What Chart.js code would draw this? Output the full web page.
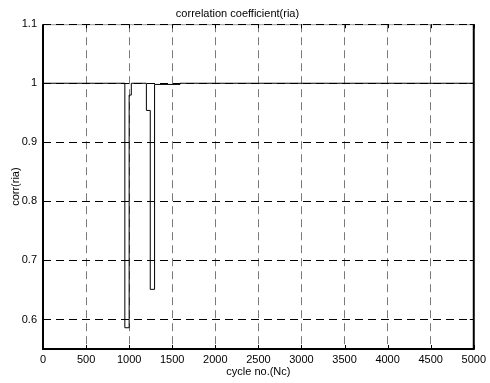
<!DOCTYPE html>
<html>
<head>
<meta charset="utf-8">
<script src="https://cdn.jsdelivr.net/npm/chart.js@4.4.0/dist/chart.umd.min.js"></script>
<style>
html, body { margin: 0; padding: 0; background: #fff; }
canvas { display: block; }
</style>
</head>
<body>
<canvas id="c" width="490" height="383"></canvas>
<script>
// step trace: each value holds from its cycle number up to the next one
var cycles = [0, 950, 1000, 1025, 1200, 1245, 1295, 1590, 5000];
var corr   = [1, 0.586, 0.98, 1, 0.954, 0.651, 0.998, 1, 1];

var xTicks = [0, 500, 1000, 1500, 2000, 2500, 3000, 3500, 4000, 4500, 5000];
var yTicks = [0.6, 0.7, 0.8, 0.9, 1, 1.1];
var xRange = [0, 5000];
var yRange = [0.55, 1.1];

var titleText = 'correlation coefficient(ria)';
var xTitle = 'cycle no.(Nc)';
var yTitle = 'corr(ria)';

Chart.defaults.font.family = '"Liberation Sans", Arial, sans-serif';
Chart.defaults.font.size = 11;
Chart.defaults.color = '#000';

var points = [];
for (var i = 0; i < cycles.length; i++) points.push({x: cycles[i], y: corr[i]});

function fmt(v) { return String(Number(v.toFixed(2))); }

// box around the axes with inward ticks on every side
var frame = {
  id: 'frame',
  beforeDraw: function(chart) {
    var a = chart.chartArea, ctx = chart.ctx;
    ctx.save();
    ctx.strokeStyle = '#9a9a9a';
    ctx.lineWidth = 1;
    ctx.beginPath();
    ctx.moveTo(a.left, a.top + 0.5);
    ctx.lineTo(a.right, a.top + 0.5);
    ctx.stroke();
    ctx.restore();
  },
  afterDatasetsDraw: function(chart) {
    var a = chart.chartArea, ctx = chart.ctx;
    var xs = chart.scales.x, ys = chart.scales.y;
    var t = 4, i, p;
    ctx.save();
    ctx.strokeStyle = '#000';
    ctx.lineWidth = 2;
    ctx.beginPath();
    ctx.moveTo(a.left, a.top);
    ctx.lineTo(a.left, a.bottom);
    ctx.lineTo(a.right, a.bottom);
    ctx.lineTo(a.right, a.top);
    ctx.stroke();
    ctx.lineWidth = 1;
    ctx.beginPath();
    for (i = 0; i < xTicks.length; i++) {
      p = Math.round(xs.getPixelForValue(xTicks[i])) + 0.5;
      ctx.moveTo(p, a.bottom); ctx.lineTo(p, a.bottom - t);
      ctx.moveTo(p, a.top); ctx.lineTo(p, a.top + t);
    }
    for (i = 0; i < yTicks.length; i++) {
      p = Math.round(ys.getPixelForValue(yTicks[i])) + 0.5;
      ctx.moveTo(a.left, p); ctx.lineTo(a.left + t, p);
      ctx.moveTo(a.right, p); ctx.lineTo(a.right - t, p);
    }
    ctx.stroke();
    ctx.restore();
  }
};

new Chart(document.getElementById('c'), {
  type: 'scatter',
  data: {
    datasets: [{
      data: points,
      showLine: true,
      stepped: true,
      borderColor: '#000',
      borderWidth: 1,
      pointRadius: 0,
      fill: false
    }]
  },
  options: {
    responsive: false,
    animation: false,
    layout: { padding: { top: 1, right: 15, left: 0, bottom: 0 } },
    plugins: {
      legend: { display: false },
      tooltip: { enabled: false },
      title: {
        display: true,
        text: titleText,
        font: { size: 11, weight: 'normal' },
        color: '#000',
        padding: { top: 6, bottom: 4 }
      }
    },
    scales: {
      x: {
        type: 'linear',
        min: xRange[0],
        max: xRange[1],
        afterBuildTicks: function(s) { s.ticks = xTicks.map(function(v) { return {value: v}; }); },
        afterFit: function(s) { s.height = 34; },
        ticks: { padding: 4, maxRotation: 0, autoSkip: false, color: '#000', callback: function(v) { return fmt(v); } },
        grid: { color: '#7a7a7a', lineWidth: 1, drawTicks: false },
        border: { display: false, dash: [8, 5] },
        title: { display: true, text: xTitle, color: '#000', padding: { top: 0, bottom: 4 } }
      },
      y: {
        type: 'linear',
        min: yRange[0],
        max: yRange[1],
        afterBuildTicks: function(s) { s.ticks = yTicks.map(function(v) { return {value: v}; }); },
        afterFit: function(s) { s.width = 43; },
        ticks: { padding: 6, autoSkip: false, color: '#000', callback: function(v) { return fmt(v); } },
        grid: { color: '#000', lineWidth: 1, drawTicks: false },
        border: { display: false, dash: [8, 5] },
        title: { display: true, text: yTitle, color: '#000', padding: { top: 9, bottom: 0 } }
      }
    }
  },
  plugins: [frame]
});
</script>
</body>
</html>
